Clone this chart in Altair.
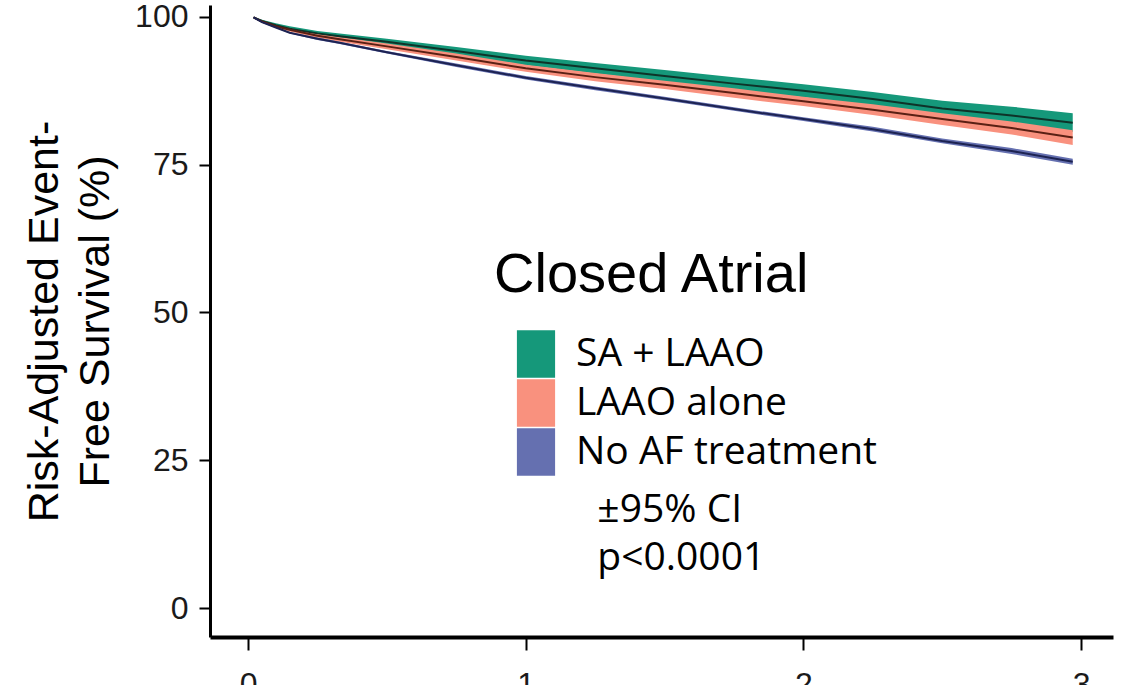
import altair as alt
import pandas as pd

groups = ["SA + LAAO", "LAAO alone", "No AF treatment"]
fill_colors = ["#15987A", "#F9917E", "#6570B0"]
line_colors = ["#0E3329", "#5A2014", "#1D2352"]

years = [0.02, 0.05, 0.1, 0.15, 0.25, 0.33, 0.5, 0.75, 1.0, 1.25, 1.5, 1.75, 2.0, 2.25, 2.5, 2.75, 2.97]

sa_mid = [99.9, 99.3, 98.6, 98.0, 97.2, 96.7, 95.8, 94.2, 92.6, 91.3, 90.0, 88.7, 87.5, 86.1, 84.5, 83.3, 82.1]
sa_lo = [99.8, 99.1, 98.3, 97.6, 96.8, 96.2, 95.3, 93.5, 91.8, 90.4, 89.0, 87.6, 86.4, 84.9, 83.2, 81.8, 80.5]
sa_hi = [100.0, 99.5, 98.9, 98.4, 97.6, 97.2, 96.3, 94.9, 93.4, 92.2, 91.0, 89.8, 88.6, 87.3, 85.8, 84.8, 83.7]

la_mid = [99.9, 99.2, 98.4, 97.8, 96.8, 96.2, 95.0, 93.2, 91.3, 89.8, 88.5, 87.1, 85.7, 84.3, 82.7, 81.2, 79.6]
la_lo = [99.8, 99.0, 98.2, 97.5, 96.4, 95.8, 94.5, 92.6, 90.7, 89.1, 87.8, 86.3, 84.9, 83.4, 81.7, 80.1, 78.3]
la_hi = [100.0, 99.4, 98.6, 98.1, 97.2, 96.6, 95.5, 93.8, 91.9, 90.5, 89.2, 87.9, 86.5, 85.2, 83.7, 82.3, 80.8]

no_mid = [99.9, 99.1, 98.2, 97.3, 96.3, 95.6, 94.0, 91.8, 89.7, 87.9, 86.2, 84.4, 82.7, 81.0, 79.0, 77.3, 75.5]
no_lo = [99.8, 99.0, 98.1, 97.2, 96.1, 95.4, 93.8, 91.5, 89.4, 87.6, 85.9, 84.1, 82.4, 80.6, 78.6, 76.8, 75.0]
no_hi = [100.0, 99.2, 98.3, 97.4, 96.5, 95.8, 94.2, 92.1, 90.0, 88.2, 86.5, 84.7, 83.0, 81.4, 79.4, 77.8, 76.0]

ann_labels = ["\u00b195% CI\np<0.0001"]
ann_years = [1.258]
ann_vals = [14.6]

rows = []
for g, mids, los, his in zip(groups, [sa_mid, la_mid, no_mid], [sa_lo, la_lo, no_lo], [sa_hi, la_hi, no_hi]):
    for t, m, lo, hi in zip(years, mids, los, his):
        rows.append({"group": g, "year": t, "mid": m, "lo": lo, "hi": hi})
df = pd.DataFrame(rows)
ann = pd.DataFrame({"label": ann_labels, "year": ann_years, "mid": ann_vals})

xscale = alt.Scale(domain=[-0.137, 3.115], nice=False, zero=False)
yscale = alt.Scale(domain=[-4.9, 102], nice=False, zero=False)
xaxis = alt.Axis(values=[0, 1, 2, 3], title=None, grid=False, tickSize=13, labelPadding=19,
                 domainWidth=4, tickWidth=2, labelFontSize=32)
yaxis = alt.Axis(values=[0, 25, 50, 75, 100], title=["Risk-Adjusted Event-", "Free Survival (%)"],
                 grid=False, tickSize=11, labelPadding=11, domainWidth=3, tickWidth=2,
                 labelFontSize=32,
                 titleFontSize=43, titleLineHeight=51, titleX=-166, titleY=316,
                 titleAngle=-90, titleAlign="center", titleBaseline="middle")

band = alt.Chart(df).mark_area(opacity=1).encode(
    x=alt.X("year:Q", scale=xscale, axis=xaxis),
    y=alt.Y("lo:Q", scale=yscale, axis=yaxis),
    y2="hi:Q",
    color=alt.Color("group:N", scale=alt.Scale(domain=groups, range=fill_colors),
                    sort=groups,
                    legend=alt.Legend(title="Closed Atrial", orient="none", legendX=284, legendY=243,
                                      titleFontSize=56, titleFont="Liberation Sans", titleFontWeight="normal",
                                      titleColor="black", titleLimit=800, titlePadding=27,
                                      labelFont="Open Sans", labelFontSize=39, labelColor="black",
                                      labelLimit=800, labelOffset=17, symbolOffset=19,
                                      symbolType="M-0.83,-1.03H0.83V1.03H-0.83Z", symbolSize=2116,
                                      symbolStrokeWidth=0, symbolOpacity=1, rowPadding=1, padding=0)),
)

line = alt.Chart(df).mark_line(strokeWidth=2).encode(
    x=alt.X("year:Q", scale=xscale, axis=xaxis),
    y=alt.Y("mid:Q", scale=yscale, axis=yaxis),
    stroke=alt.Stroke("group:N", scale=alt.Scale(domain=groups, range=line_colors), legend=None),
)

text = alt.Chart(ann).mark_text(align="left", baseline="alphabetic", font="Open Sans", fontSize=39,
                                lineBreak="\n", lineHeight=48, color="black").encode(
    x=alt.X("year:Q", scale=xscale, axis=xaxis),
    y=alt.Y("mid:Q", scale=yscale, axis=yaxis),
    text="label:N",
)

chart = alt.layer(band, line, text).properties(
    width=903, height=632,
    padding={"left": 210, "top": 5, "right": 17, "bottom": 48},
    autosize=alt.AutoSizeParams(type="none"),
    background="white",
).configure_view(stroke=None).configure_axis(
    labelFont="Liberation Sans", labelColor="#1a1a1a",
    titleFont="Liberation Sans", titleFontWeight="normal", titleColor="black",
    domainColor="black", tickColor="black",
)

chart.save("out.html", embed_options={"renderer": "svg", "actions": False})
